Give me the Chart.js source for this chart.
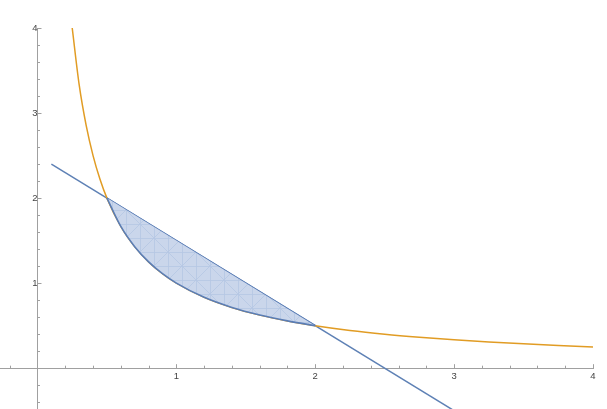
<!DOCTYPE html>
<html>
<head>
<meta charset="utf-8">
<script src="https://cdn.jsdelivr.net/npm/chart.js@4.4.1/dist/chart.umd.min.js"></script>
<style>
  html, body { margin: 0; padding: 0; background: #fff; }
  #wrap { width: 607px; height: 409px; }
</style>
</head>
<body>
<div id="wrap"><canvas id="myChart"></canvas></div>
<script>
// values
const curveX = [0.25, 0.3, 0.35, 0.4, 0.45, 0.5, 0.6, 0.7, 0.8, 0.9, 1.0, 1.2, 1.4, 1.6, 1.8, 2.0, 2.25, 2.5, 2.75, 3.0, 3.25, 3.5, 3.75, 4.0];
const curveY = [4.0, 3.333, 2.857, 2.5, 2.222, 2.0, 1.667, 1.429, 1.25, 1.111, 1.0, 0.833, 0.714, 0.625, 0.556, 0.5, 0.444, 0.4, 0.364, 0.333, 0.308, 0.286, 0.267, 0.25];
const lineX = [0.1, 3.0];
const lineY = [2.4, -0.5];
const regionLowX = [0.5, 0.6, 0.7, 0.8, 0.9, 1.0, 1.2, 1.4, 1.6, 1.8, 2.0];
const regionLowY = [2.0, 1.667, 1.429, 1.25, 1.111, 1.0, 0.833, 0.714, 0.625, 0.556, 0.5];
const regionTopX = [0.5, 2.0];
const regionTopY = [2.0, 0.5];
const tickLabels = [1, 2, 3, 4];

function pts(xs, ys) {
    return xs.map((x, i) => ({ x: x, y: ys[i] }));
}

// light blue fill with a faint triangle mesh, like the original
function meshPattern() {
    const c = document.createElement('canvas');
    c.width = 28; c.height = 28;
    const g = c.getContext('2d');
    g.fillStyle = '#cad6eb';
    g.fillRect(0, 0, 28, 28);
    g.strokeStyle = '#b5c6e3';
    g.lineWidth = 0.8;
    g.beginPath();
    g.moveTo(0, 0.5); g.lineTo(28, 0.5);
    g.moveTo(0, 14.5); g.lineTo(28, 14.5);
    g.moveTo(0.5, 0); g.lineTo(0.5, 28);
    g.moveTo(14.5, 0); g.lineTo(14.5, 28);
    g.moveTo(0, 0); g.lineTo(28, 28);
    g.moveTo(28, 0); g.lineTo(0, 28);
    g.stroke();
    return g.createPattern(c, 'repeat');
}

// small Mathematica-style tick marks on the axes
const tickMarks = {
    id: 'tickMarks',
    afterDatasetsDraw(chart) {
        const ctx = chart.ctx;
        const xs = chart.scales.x, ys = chart.scales.y;
        const x0 = xs.getPixelForValue(0), y0 = ys.getPixelForValue(0);
        ctx.save();
        ctx.strokeStyle = '#a0a0a0';
        ctx.lineWidth = 1;
        ctx.beginPath();
        for (let i = -1; i <= 20; i++) {
            if (i === 0) continue;
            const v = i / 5;
            const len = (i % 5 === 0) ? 4 : 2.5;
            const px = Math.round(xs.getPixelForValue(v)) + 0.5;
            ctx.moveTo(px, y0); ctx.lineTo(px, y0 - len);
        }
        for (let i = -2; i <= 20; i++) {
            if (i === 0) continue;
            const v = i / 5;
            const len = (i % 5 === 0) ? 4 : 2.5;
            const py = Math.round(ys.getPixelForValue(v)) + 0.5;
            ctx.moveTo(x0, py); ctx.lineTo(x0 + len, py);
        }
        ctx.stroke();
        ctx.restore();
    }
};

const ctx = document.getElementById('myChart').getContext('2d');
const chart = new Chart(ctx, {
    type: 'scatter',
    data: {
        datasets: [
            {
                label: 'lower',
                data: pts(regionLowX, regionLowY),
                showLine: true,
                borderColor: '#5a7db5',
                borderWidth: 1.6,
                backgroundColor: meshPattern(),
                fill: '+1',
                cubicInterpolationMode: 'monotone',
                pointRadius: 0,
                order: 1
            },
            {
                label: 'upper',
                data: pts(regionTopX, regionTopY),
                showLine: true,
                borderColor: '#5a7db5',
                borderWidth: 1.6,
                fill: false,
                pointRadius: 0,
                order: 1
            },
            {
                label: '1/x',
                data: pts(curveX, curveY),
                showLine: true,
                borderColor: '#e19c24',
                borderWidth: 1.5,
                fill: false,
                cubicInterpolationMode: 'monotone',
                pointRadius: 0,
                order: 2
            },
            {
                label: 'line',
                data: pts(lineX, lineY),
                showLine: true,
                borderColor: '#5e81b5',
                borderWidth: 1.5,
                fill: false,
                pointRadius: 0,
                order: 3
            }
        ]
    },
    options: {
        responsive: true,
        maintainAspectRatio: false,
        animation: false,
        layout: { padding: { top: 28, right: 14, left: 0, bottom: 0 } },
        plugins: {
            legend: { display: false },
            tooltip: { enabled: false }
        },
        scales: {
            x: {
                type: 'linear',
                min: -0.27,
                max: 4,
                position: { y: 0 },
                afterFit: s => { s.height = 0; s.paddingLeft = 0; s.paddingRight = 0; },
                grid: { display: false, drawTicks: false },
                border: { color: '#a0a0a0', width: 1 },
                ticks: {
                    stepSize: 1,
                    includeBounds: false,
                    padding: 2,
                    color: '#444',
                    font: { family: 'Liberation Sans', size: 9.5 },
                    callback: v => tickLabels.includes(v) ? String(v) : ''
                }
            },
            y: {
                type: 'linear',
                min: -0.48,
                max: 4,
                position: { x: 0 },
                afterFit: s => { s.width = 0; s.paddingTop = 0; s.paddingBottom = 0; },
                grid: { display: false, drawTicks: false },
                border: { color: '#a0a0a0', width: 1 },
                ticks: {
                    stepSize: 1,
                    includeBounds: false,
                    padding: 5,
                    color: '#444',
                    font: { family: 'Liberation Sans', size: 9.5 },
                    callback: v => tickLabels.includes(v) ? String(v) : ''
                }
            }
        }
    },
    plugins: [tickMarks]
});
</script>
</body>
</html>
